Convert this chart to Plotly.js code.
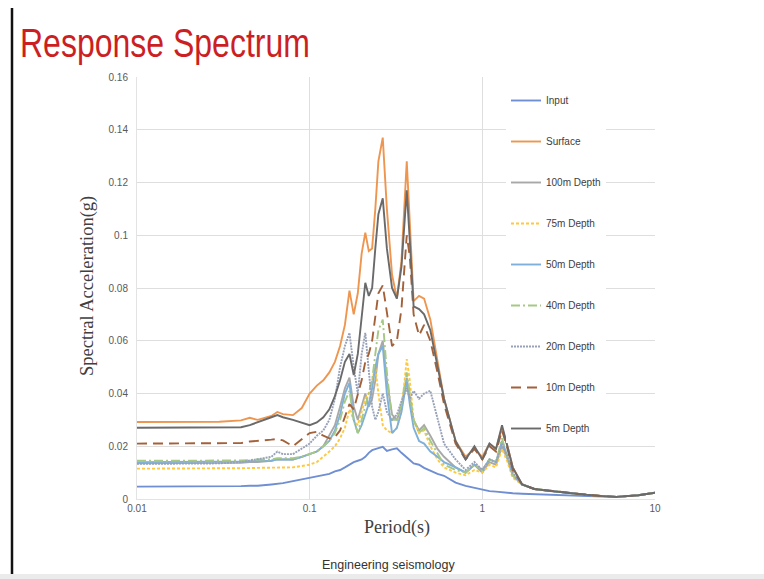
<!DOCTYPE html>
<html>
<head>
<meta charset="utf-8">
<script src="https://cdn.plot.ly/plotly-3.0.1.min.js"></script>
<style>html,body{margin:0;padding:0;background:#fff;}#chart{width:764px;height:579px;}</style>
</head>
<body>
<div id="chart"></div>
<script>
// Period (s)
const periods = [0.01,0.02,0.03,0.04,0.045,0.05,0.06,0.065,0.07,0.08,0.09,0.1,0.11,0.12,0.13,0.14,0.15,0.16,0.17,0.18,0.19,0.2,0.21,0.22,0.23,0.24,0.25,0.265,0.28,0.3,0.32,0.34,0.365,0.38,0.4,0.43,0.46,0.5,0.55,0.6,0.7,0.8,0.9,1.0,1.1,1.2,1.3,1.4,1.5,1.7,2,2.5,3,4,5,6,8,10];

const seriesNames = ["Input","Surface","100m Depth","75m Depth","50m Depth","40m Depth","20m Depth","10m Depth","5m Depth"];

const inputSa = [0.0047,0.0047,0.0048,0.0049,0.005,0.005,0.0055,0.0058,0.006,0.0068,0.0075,0.008,0.0085,0.009,0.0095,0.0105,0.011,0.012,0.013,0.014,0.0145,0.015,0.016,0.0175,0.0185,0.019,0.0193,0.0198,0.0182,0.0188,0.0192,0.0175,0.016,0.0148,0.0135,0.013,0.0118,0.0108,0.0095,0.0088,0.0062,0.005,0.0042,0.0035,0.003,0.0028,0.0025,0.0023,0.0022,0.002,0.0018,0.0015,0.0013,0.0011,0.0009,0.0008,0.0014,0.0024];

const surfaceSa = [0.0292,0.0292,0.0293,0.0298,0.0308,0.0300,0.0315,0.0330,0.0322,0.0318,
  0.0345,0.040,0.043,0.045,0.048,0.052,0.058,0.066,0.079,0.070,
  0.078,0.093,0.101,0.094,0.095,0.110,0.128,0.137,0.110,0.085,
  0.076,0.090,0.128,0.105,0.075,0.077,0.076,0.068,0.052,0.038,
  0.022,0.016,0.019,0.016,0.021,0.019,0.027,0.020,0.012,
  0.0055,0.0038,0.003,0.0024,0.0016,0.0011,0.0008,0.0014,0.0024];

const d100Sa = [0.0135,0.0135,0.0135,0.0137,0.014,0.014,0.0145,0.015,0.015,0.015,
  0.016,0.017,0.018,0.020,0.024,0.028,0.035,0.042,0.046,0.035,
  0.030,0.035,0.040,0.035,0.038,0.045,0.055,0.060,0.045,0.032,
  0.030,0.035,0.046,0.038,0.030,0.026,0.028,0.024,0.019,0.016,
  0.012,0.010,0.013,0.010,0.014,0.013,0.020,0.015,0.009,
  0.0055,0.0038,0.003,0.0024,0.0016,0.0011,0.0008,0.0014,0.0024];

const d75Sa = [0.0115,0.0115,0.0115,0.0116,0.0117,0.0118,0.0118,0.012,0.012,0.012,
  0.0125,0.013,0.014,0.016,0.018,0.020,0.023,0.027,0.034,0.030,
  0.028,0.033,0.038,0.040,0.045,0.050,0.040,0.028,0.026,0.025,
  0.027,0.033,0.053,0.045,0.030,0.025,0.026,0.020,0.015,0.012,
  0.010,0.009,0.011,0.010,0.013,0.012,0.019,0.014,0.008,
  0.0055,0.0038,0.003,0.0024,0.0016,0.0011,0.0008,0.0014,0.0024];

const d50Sa = [0.014,0.014,0.014,0.0142,0.0143,0.0144,0.0145,0.015,0.015,0.015,
  0.016,0.017,0.018,0.020,0.022,0.026,0.032,0.040,0.044,0.030,
  0.025,0.028,0.032,0.036,0.042,0.050,0.055,0.058,0.040,0.025,
  0.027,0.033,0.045,0.036,0.027,0.022,0.021,0.018,0.016,0.014,
  0.012,0.010,0.013,0.011,0.015,0.014,0.022,0.016,0.009,
  0.0055,0.0038,0.003,0.0024,0.0016,0.0011,0.0008,0.0014,0.0024];

const d40Sa = [0.0145,0.0145,0.0145,0.0146,0.0148,0.015,0.015,0.0155,0.0155,0.0155,
  0.016,0.017,0.018,0.020,0.022,0.025,0.030,0.037,0.041,0.030,
  0.025,0.030,0.035,0.040,0.045,0.055,0.064,0.068,0.048,0.030,
  0.030,0.036,0.048,0.040,0.030,0.025,0.027,0.022,0.017,0.013,
  0.011,0.010,0.013,0.011,0.015,0.014,0.023,0.016,0.009,
  0.0055,0.0038,0.003,0.0024,0.0016,0.0011,0.0008,0.0014,0.0024];

const d20Sa = [0.0133,0.0133,0.0135,0.014,0.0145,0.015,0.016,0.018,0.017,0.017,
  0.019,0.021,0.024,0.026,0.030,0.038,0.050,0.058,0.063,0.050,
  0.040,0.055,0.063,0.050,0.035,0.030,0.033,0.040,0.033,0.030,
  0.032,0.037,0.042,0.038,0.041,0.038,0.040,0.041,0.030,0.021,
  0.015,0.011,0.014,0.011,0.015,0.014,0.021,0.016,0.010,
  0.0055,0.0038,0.003,0.0024,0.0016,0.0011,0.0008,0.0014,0.0024];

const d10Sa = [0.021,0.021,0.021,0.0212,0.0218,0.022,0.0225,0.0228,0.0222,0.020,
  0.0225,0.025,0.0255,0.024,0.023,0.0235,0.026,0.031,0.036,0.034,
  0.040,0.045,0.052,0.055,0.060,0.070,0.078,0.081,0.070,0.058,
  0.060,0.072,0.100,0.092,0.070,0.062,0.066,0.060,0.048,0.036,
  0.021,0.015,0.019,0.015,0.020,0.018,0.026,0.019,0.011,
  0.0055,0.0038,0.003,0.0024,0.0016,0.0011,0.0008,0.0014,0.0024];

const d5Sa = [0.027,0.027,0.027,0.0272,0.028,0.029,0.031,0.0318,0.031,0.030,
  0.029,0.028,0.029,0.031,0.034,0.039,0.045,0.052,0.055,0.047,
  0.055,0.070,0.082,0.077,0.080,0.095,0.108,0.114,0.095,0.080,
  0.076,0.088,0.117,0.098,0.073,0.072,0.070,0.064,0.050,0.038,
  0.022,0.015,0.020,0.015,0.021,0.019,0.028,0.020,0.012,
  0.0055,0.0038,0.003,0.0024,0.0016,0.0011,0.0008,0.0014,0.0024];

const xTickVals = [0.01,0.1,1,10];
const xTickText = ["0.01","0.1","1","10"];

const allSeries = [inputSa,surfaceSa,d100Sa,d75Sa,d50Sa,d40Sa,d20Sa,d10Sa,d5Sa];
const colors = ["#6f8fd2","#ee9650","#a8a8a8","#ffc83d","#7fb0da","#a5c985","#98a1b8","#a3613a","#6a6a6a"];
const dashes = ["solid","solid","solid","3px,2px","solid","9px,3px,2px,3px","2px,1px","10px,6px","solid"];

const traces = allSeries.map((ys, i) => ({
  type: "scatter", mode: "lines",
  x: periods, y: ys, name: seriesNames[i],
  legendgroup: "g" + i,
  line: {color: colors[i], width: 1.9, dash: dashes[i], shape: "linear"}
}));

const fontNarrow = "Liberation Sans Narrow, Arial Narrow, Liberation Sans, Arial, sans-serif";
const serif = "Liberation Serif, Times New Roman, serif";

const layout = {
  width: 764, height: 579,
  margin: {l: 137, r: 109, t: 77, b: 80, pad: 0},
  paper_bgcolor: "#ffffff", plot_bgcolor: "#ffffff",
  showlegend: true,
  title: {text: "Response Spectrum", x: 20/764, xanchor: "left", y: 1 - 43/579, yanchor: "middle",
    font: {family: fontNarrow, size: 40, color: "#cc1f24"}},
  xaxis: {type: "log", range: [-2, 1], tickvals: xTickVals, ticktext: xTickText,
    showgrid: true, gridcolor: "#dedede", gridwidth: 1, zeroline: false,
    showline: true, linecolor: "#e3e3e3", linewidth: 1, ticks: "",
    tickfont: {family: fontNarrow, size: 10, color: "#595959"},
    title: {text: ""}},
  yaxis: {range: [0, 0.16], dtick: 0.02, tick0: 0,
    showgrid: true, gridcolor: "#dedede", gridwidth: 1, zeroline: false,
    showline: true, linecolor: "#e3e3e3", linewidth: 1, ticks: "",
    ticklabelstandoff: 6,
    tickfont: {family: fontNarrow, size: 10, color: "#595959"},
    title: {text: ""}},
  legend: {x: (506-137)/518, xanchor: "left", y: (499-86)/422, yanchor: "top",
    bgcolor: "#ffffff", borderwidth: 0, tracegroupgap: 22,
    font: {family: fontNarrow, size: 10, color: "#404040"}},
  annotations: [
    {text: "Spectral Acceleration(g)", xref: "paper", yref: "paper",
     x: (87-137)/518, y: (499-286)/422, xanchor: "center", yanchor: "middle",
     textangle: -90, showarrow: false, font: {family: serif, size: 18.5, color: "#404040"}},
    {text: "Period(s)", xref: "paper", yref: "paper",
     x: (397-137)/518, y: (499-527)/422, xanchor: "center", yanchor: "middle",
     showarrow: false, font: {family: serif, size: 18, color: "#404040"}},
    {text: "Engineering seismology", xref: "paper", yref: "paper",
     x: (388-137)/518, y: (499-565)/422, xanchor: "center", yanchor: "middle",
     showarrow: false, font: {family: fontNarrow, size: 12.5, color: "#333333"}}
  ],
  shapes: [
    {type: "line", xref: "paper", yref: "paper", x0: (12-137)/518, x1: (12-137)/518,
     y0: (499-8)/422, y1: (499-576)/422, line: {color: "#111111", width: 2.5}, layer: "above"},
    {type: "rect", xref: "paper", yref: "paper", x0: -137/518, x1: (764-137)/518,
     y0: (499-574)/422, y1: (499-579)/422, line: {width: 0}, fillcolor: "#ebebeb", layer: "above"}
  ]
};

Plotly.newPlot("chart", traces, layout, {staticPlot: true, displayModeBar: false}).then(function (gd) {
  // the reference title is set in a condensed face: compress it horizontally about its left edge
  const t = gd.querySelector(".gtitle");
  if (t) {
    const x0 = 20;
    t.setAttribute("transform", "translate(" + x0 + ",0) scale(0.8,1) translate(" + (-x0) + ",0)");
  }
});
</script>
</body>
</html>
